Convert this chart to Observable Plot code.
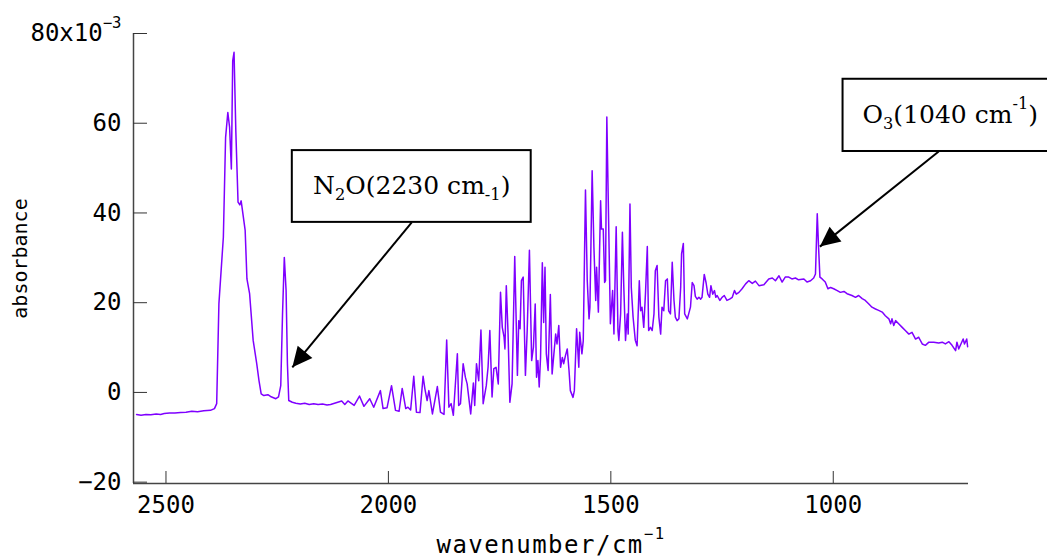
<!DOCTYPE html>
<html><head><meta charset="utf-8">
<script src="https://cdn.jsdelivr.net/npm/d3@7"></script>
<script src="https://cdn.jsdelivr.net/npm/@observablehq/plot@0.6"></script>
<style>
html,body{margin:0;padding:0;background:#fff;overflow:hidden;}
#chart svg{display:block;}
g[aria-label="y-axis label"] text{font-size:20px;}
g[aria-label="x-axis label"] text{letter-spacing:1.5px;}
</style></head><body><div id="chart"></div>
<script>
const wavenumber = [
2566,2556,2545,2534,2522,2512,2504,2492,2480,2467,2455,2442,2429,2415,2400,2391,2386,2381,2371,2366,2361,2357,2353,2350,2347,2343,2338,2334,2331,2322,2318,2312,2304,2296,2291,2286,2280,2271,2265,2253,2247,2242,2238,2234,2230,2227,2224,2216,2208,2198,2188,2178,2168,2158,2148,2138,2130,
2105,2098,2091,2077,2065,2055,2042,2033,2018,2012,2003,1993,1984,1976,1969,1961,1956,1950,1943,1937,1929,1922,1918,1913,1909,1901,1890,1883,1875,1869,1864,1859,1854,1845,1842,1838,1832,1827,1823,1815,1809,1806,1802,1797,1792,1787,1780,1776,1772,1767,1763,1758,1753,
1748,1744,1740,1738,1735,1731,1727,1722,1716,1710,1707,1704,1701,1697,1692,1688,1683,1678,1674,1670,1667,1664,1661,1658,1654,1651,1648,1645,1641,1636,1632,1628,1624,1621,1617,1613,1609,1606,1602,1598,1594,1591,1585,1582,1577,1572,1570,1565,1562,1557,1553,1549,1547,1542,1538,1534,1532,1528,1525,1523,1521,1517,1514,1512,1509,
1501,1496,1493,1488,1484,1482,1478,1474,1471,1467,1463,1461,1457,1454,1450,1445,1441,1436,1433,1430,1426,1422,1418,1415,1411,1407,1403,1400,1396,1392,1388,1385,1381,1377,1373,1370,1366,1362,1358,1355,1351,1347,1343,1341,1337,1334,1328,1325,1321,1317,1313,1310,1306,1302,1298,1295,1290,1286,1282,1278,1275,1271,1267,1264,1261,1255,1250,1245,1239,1233,1227,1222,1218,1212,1205,
1197,1190,1182,1175,1167,1156,1145,1137,1130,1122,1115,1108,1100,1093,1085,1078,1066,1059,1051,1044,1040,1036,1033,1030,1025,1018,1012,1006,999,991,984,976,969,958,950,943,935,928,920,913,905,898,890,883,875,871,868,864,860,853,845,838,830,823,815,808,800,793,785,774,763,755,748,740,733,725,722,718,713,708,705,700,698];
const absorbance = [
-4.9,-5.1,-4.9,-5.0,-4.8,-4.9,-4.7,-4.6,-4.6,-4.5,-4.4,-4.2,-4.3,-4.1,-4.0,-3.6,-2.5,19.8,34.6,56.8,62.4,59.1,49.8,73.9,75.8,58.3,42.4,41.8,42.7,36.1,25.3,22.0,11.6,6.4,2.7,-0.3,-0.7,-0.5,-0.9,-1.4,-1.0,1.5,17.5,30.1,22.7,6.4,-1.8,-2.2,-2.4,-2.6,-2.4,-2.7,-2.5,-2.7,-2.6,-2.8,-2.7,
-1.9,-2.7,-1.9,-2.9,-0.8,-3.1,-1.4,-3.3,0.4,-3.6,-3.4,1.5,-4.0,-4.2,0.9,-3.6,-3.3,-3.9,3.6,-4.4,-4.5,3.6,0.8,-1.8,0.4,-4.8,1.3,-4.4,-4.9,11.7,-3.3,-2.5,-5.1,8.6,-2.9,-2.5,6.4,3.4,1.9,-4.8,2.1,-2.9,6.4,2.6,13.9,-2.5,1.5,5.6,13.8,-1.0,5.3,5.6,1.9,
22.3,14.5,12.3,9.7,23.8,13.0,-2.2,1.9,30.3,3.8,16.0,14.2,24.9,25.7,3.8,13.8,31.7,7.1,10.1,19.7,3.4,7.1,1.2,7.8,28.9,15.6,27.9,8.6,4.9,21.8,4.1,8.6,13.0,10.8,14.9,5.6,7.8,6.4,8.2,9.7,4.9,0.4,-1.1,0.4,14.2,5.6,13.4,8.6,11.5,45.1,24.9,16.4,19.0,49.4,32.3,20.5,27.9,17.9,33.1,42.7,36.4,36.4,24.5,24.9,61.4,
15.3,22.7,13.0,36.9,13.8,11.6,17.5,35.7,24.0,11.6,17.5,13.0,42.0,23.4,16.8,11.6,10.4,24.9,18.2,19.0,14.5,22.3,32.5,13.8,14.5,13.8,17.5,27.1,28.3,16.8,13.0,19.0,18.2,24.9,25.3,18.2,17.5,29.0,20.5,16.8,16.0,16.4,23.4,30.9,33.2,17.5,16.4,17.5,19.0,24.5,23.8,21.4,20.8,21.2,20.8,21.2,26.3,24.5,21.9,21.2,23.8,21.9,22.7,21.2,21.6,20.5,21.2,21.6,20.5,20.8,21.2,22.7,21.9,22.3,23.1,
24.2,24.9,24.3,24.8,23.8,24.0,25.3,25.5,24.9,26.0,24.6,25.7,25.7,25.3,25.5,25.1,25.3,24.6,24.9,25.5,26.4,39.8,32.3,25.7,25.3,24.6,23.1,23.4,23.1,22.7,22.3,22.5,22.0,21.6,21.2,21.6,20.9,20.5,19.7,19.0,18.6,18.3,17.9,17.1,16.4,15.3,16.4,14.9,16.0,15.3,14.5,13.8,13.0,13.4,11.9,12.3,10.8,10.5,11.2,11.2,11.0,11.2,10.8,11.3,10.5,9.3,11.2,9.7,10.8,11.9,10.8,11.9,10.2];

const xTicks = [2500, 2000, 1500, 1000];
const yTicks = [-20, 0, 20, 40, 60, 80];
const yTickLabels = ["−20", "0", "20", "40", "60", "80x10^{−3}"];
const xDomain = [2573, 696];
const yDomain = [-20.3, 80];
const xLabel = "wavenumber/cm^{−1}";
const yLabel = "absorbance";

// annotations (in data units)
const annotationText = ["N_{2}O(2230 cm_{-1})", "O_{3}(1040 cm^{-1})"];
const annotationW = [1947.5, 737];
const annotationA = [45.9, 61.8];
const boxLeftW = [2216, 978];
const boxRightW = [1679, 490];
const boxTopA = [53.9, 69.8];
const boxBottomA = [37.9, 53.7];
const arrowFromW = [1947.5, 763];
const arrowFromA = [37.9, 53.7];
const arrowToW = [2216, 1030];
const arrowToA = [5.6, 32.5];

const spectrum = wavenumber.map((w, i) => ({w, a: absorbance[i]}));
const boxes = annotationText.map((t, i) => ({x1: boxLeftW[i], x2: boxRightW[i], y1: boxBottomA[i], y2: boxTopA[i]}));
const labels = annotationText.map((t, i) => ({t, w: annotationW[i], a: annotationA[i]}));
const arrows = annotationText.map((t, i) => ({x1: arrowFromW[i], y1: arrowFromA[i], x2: arrowToW[i], y2: arrowToA[i]}));

function filledArrow(color) {
  const m = d3.create("svg:marker")
    .attr("viewBox", "-21 -11 22 22")
    .attr("markerWidth", 22).attr("markerHeight", 22)
    .attr("markerUnits", "userSpaceOnUse")
    .attr("orient", "auto")
    .attr("refX", 0).attr("refY", 0);
  m.append("path").attr("d", "M0,0L-20,-9.5L-20,9.5Z").attr("fill", "black").attr("stroke", "none");
  return m.node();
}

function build(useMarker) {
  return Plot.plot({
    width: 1047, height: 559,
    marginLeft: 133, marginRight: 79, marginTop: 33, marginBottom: 76,
    style: {fontFamily: "'DejaVu Sans Mono', monospace", fontSize: "24px", color: "#000", background: "#fff"},
    x: {domain: xDomain},
    y: {domain: yDomain},
    marks: [
      Plot.ruleX([xDomain[0]], {stroke: "#444", strokeWidth: 1.5}),
      Plot.ruleY([yDomain[0]], {stroke: "#444", strokeWidth: 1.5}),
      Plot.line(spectrum, {x: "w", y: "a", stroke: "#7f00ff", strokeWidth: 1.5}),
      useMarker
        ? Plot.link(arrows, {x1: "x1", y1: "y1", x2: "x2", y2: "y2", stroke: "black", strokeWidth: 2, markerEnd: filledArrow})
        : Plot.arrow(arrows, {x1: "x1", y1: "y1", x2: "x2", y2: "y2", stroke: "black", strokeWidth: 2, headLength: 20}),
      Plot.rect(boxes, {x1: "x1", x2: "x2", y1: "y1", y2: "y2", fill: "white", stroke: "black", strokeWidth: 2}),
      Plot.text(labels, {x: "w", y: "a", text: "t", fontFamily: "'DejaVu Serif', serif", fontSize: 25, fill: "black"}),
      Plot.axisX(xTicks, {anchor: "bottom", tickSize: -12, tickPadding: 24, stroke: "#333", label: xLabel, labelAnchor: "center", labelOffset: 69, labelArrow: "none", tickFormat: d => String(d)}),
      Plot.axisY(yTicks, {anchor: "left", tickSize: -14, tickPadding: 26, stroke: "#333", label: yLabel, labelAnchor: "center", labelOffset: 121, labelArrow: "none", tickFormat: d => yTickLabels[yTicks.indexOf(d)]})
    ]
  });
}

function richify(root) {
  root.querySelectorAll("text").forEach(t => {
    const s = t.textContent;
    if (!/[_^]\{/.test(s)) return;
    t.textContent = "";
    const re = /([_^])\{([^}]*)\}|([^_^]+)/g;
    let m, shift = 0;
    while ((m = re.exec(s))) {
      const ts = document.createElementNS("http://www.w3.org/2000/svg", "tspan");
      if (m[1]) {
        const target = m[1] === "^" ? -0.55 : 0.22;
        ts.setAttribute("font-size", "65%");
        ts.setAttribute("dy", ((target - shift) / 0.65).toFixed(3) + "em");
        shift = target;
        ts.textContent = m[2];
      } else {
        if (shift !== 0) { ts.setAttribute("dy", (-shift).toFixed(3) + "em"); shift = 0; }
        ts.textContent = m[3];
      }
      t.appendChild(ts);
    }
  });
}

let chart;
try { chart = build(true); } catch (e) { chart = build(false); }
richify(chart);
document.getElementById("chart").appendChild(chart);
</script>
</body></html>
